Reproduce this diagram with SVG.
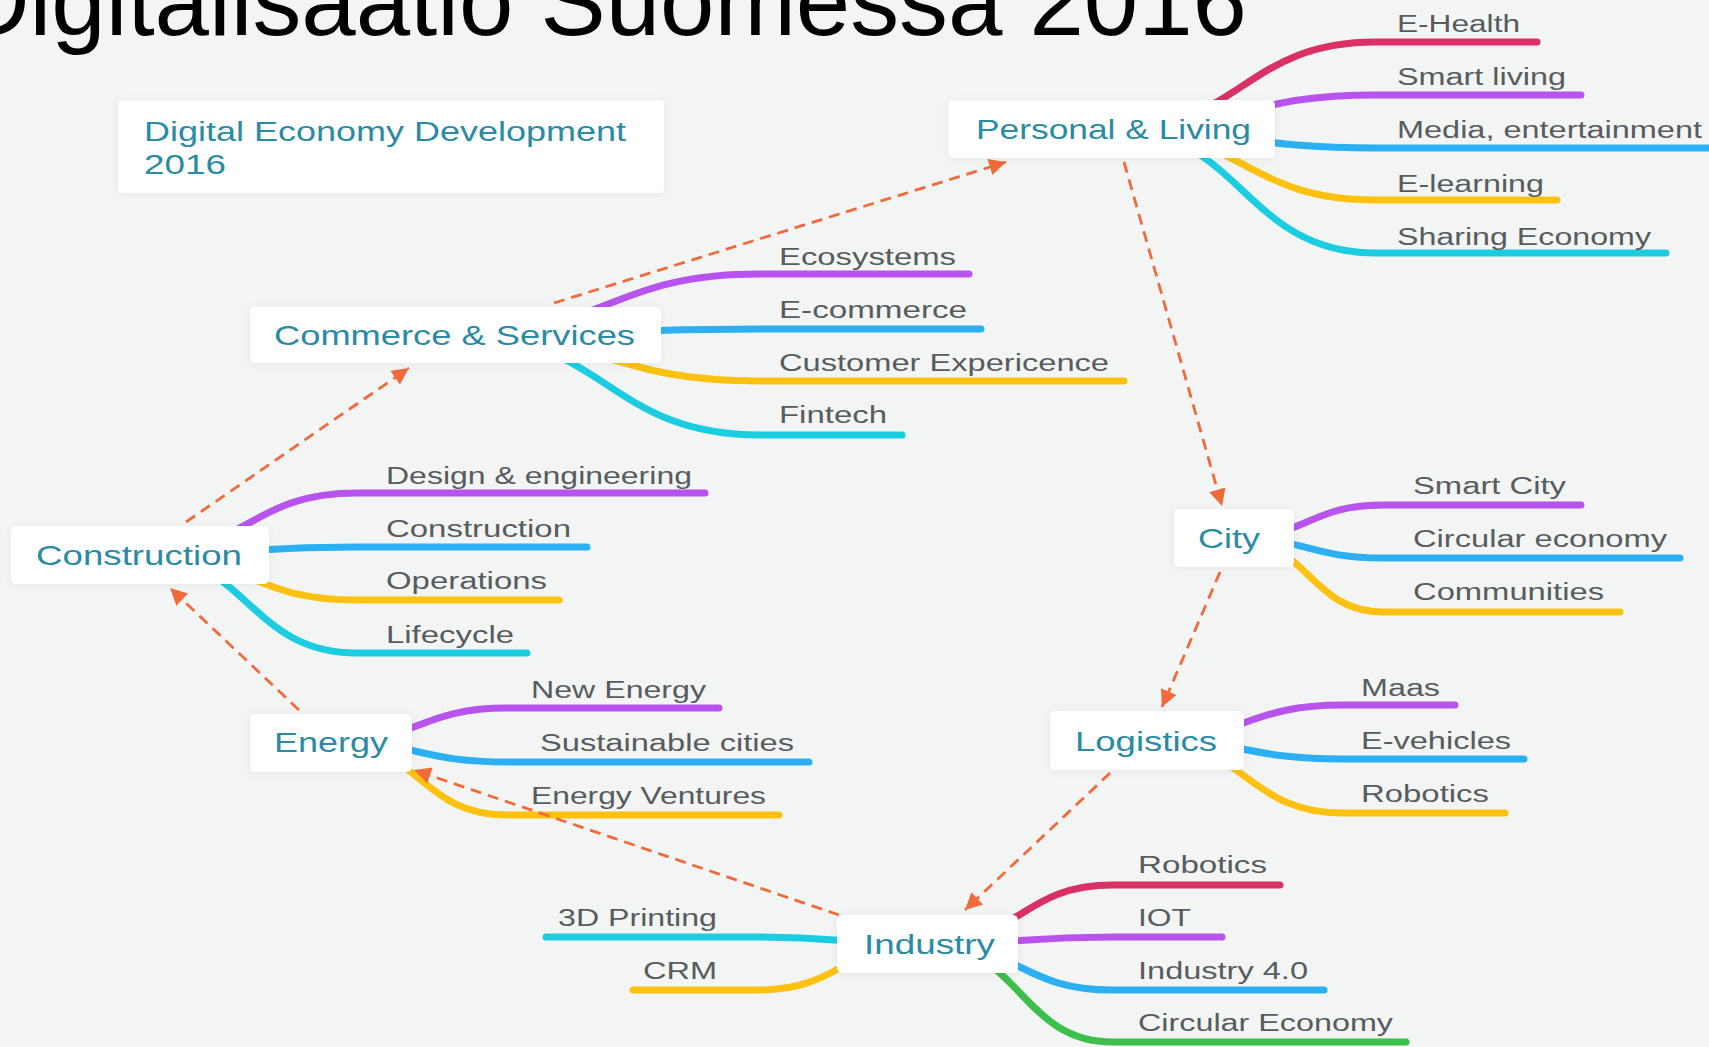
<svg xmlns="http://www.w3.org/2000/svg" width="1709" height="1047" viewBox="0 0 1709 1047">
<defs>
<style>
.bg{fill:#f3f5f4}
.box{fill:#ffffff;filter:url(#sh)}
.nt{font-family:"Liberation Sans",Arial,sans-serif;font-size:27.5px;fill:#2b8aa4}
.bt{font-family:"Liberation Sans",Arial,sans-serif;font-size:23.5px;fill:#575c5f}
.title{font-family:"Liberation Sans",Arial,sans-serif;font-size:97.8px;fill:#000000}
.br{fill:none;stroke-width:7;stroke-linecap:round}
.crim{stroke:#d93065}.purp{stroke:#b853ee}.blue{stroke:#2cb0f3}.yell{stroke:#fcc111}.cyan{stroke:#1ccde1}.gree{stroke:#3cbf4b}
.arr{fill:none;stroke:#f06a3b;stroke-width:2.8;stroke-dasharray:11 7;marker-end:url(#ah)}
</style>
<filter id="sh" x="-20%" y="-40%" width="140%" height="180%">
<feDropShadow dx="0" dy="1" stdDeviation="4" flood-color="#000" flood-opacity="0.06"/>
</filter>
<marker id="ah" viewBox="0 0 10 10" refX="10" refY="5" markerWidth="6.5" markerHeight="6" orient="auto" markerUnits="strokeWidth">
<path d="M0,0 L10,5 L0,10 z" fill="#f06a3b"/>
</marker>
</defs>
<rect class="bg" x="0" y="0" width="1709" height="1047"/>
<text class="title" x="-41" y="35" textLength="1288" lengthAdjust="spacingAndGlyphs">Digitalisaatio Suomessa 2016</text>

<g id="connectors">
<!-- Personal & Living branches -->
<path class="br crim" d="M1111 129 C1243 129 1243 42 1376 42 H1537"/>
<path class="br purp" d="M1111 129 C1243 129 1243 95 1376 95 H1581"/>
<path class="br blue" d="M1111 129 C1243 129 1243 148 1376 148 H1720"/>
<path class="br yell" d="M1111 129 C1243 129 1243 200 1376 200 H1557"/>
<path class="br cyan" d="M1111 129 C1243 129 1243 253 1376 253 H1666"/>
<!-- Commerce & Services branches -->
<path class="br purp" d="M455 335 C607 335 607 274 760 274 H969"/>
<path class="br blue" d="M455 335 C607 335 607 329 760 329 H981"/>
<path class="br yell" d="M455 335 C607 335 607 381 760 381 H1124"/>
<path class="br cyan" d="M455 335 C607 335 607 435 760 435 H902"/>
<!-- Construction branches -->
<path class="br purp" d="M140 554 C248 554 248 493 357 493 H705"/>
<path class="br blue" d="M140 554 C248 554 248 547 357 547 H587"/>
<path class="br yell" d="M140 554 C248 554 248 600 357 600 H559"/>
<path class="br cyan" d="M140 554 C248 554 248 653 357 653 H527"/>
<!-- Energy branches -->
<path class="br purp" d="M331 742 C419 742 419 708 507 708 H719"/>
<path class="br blue" d="M331 742 C419 742 419 762 507 762 H809"/>
<path class="br yell" d="M331 742 C419 742 419 815 507 815 H779"/>
<!-- City branches -->
<path class="br purp" d="M1233 538 C1308 538 1308 505 1384 505 H1581"/>
<path class="br blue" d="M1233 538 C1308 538 1308 558 1384 558 H1680"/>
<path class="br yell" d="M1233 538 C1308 538 1308 612 1384 612 H1620"/>
<!-- Logistics branches -->
<path class="br purp" d="M1147 740 C1245 740 1245 705 1343 705 H1455"/>
<path class="br blue" d="M1147 740 C1245 740 1245 759 1343 759 H1524"/>
<path class="br yell" d="M1147 740 C1245 740 1245 813 1343 813 H1505"/>
<!-- Industry branches -->
<path class="br crim" d="M927 944 C1020 944 1020 885 1113 885 H1280"/>
<path class="br purp" d="M927 944 C1020 944 1020 937 1113 937 H1222"/>
<path class="br blue" d="M927 944 C1020 944 1020 990 1113 990 H1324"/>
<path class="br gree" d="M927 944 C1020 944 1020 1042 1113 1042 H1406"/>
<path class="br cyan" d="M927 944 C842 944 842 937 757 937 H546"/>
<path class="br yell" d="M927 944 C842 944 842 990 757 990 H633"/>
<!-- dashed flow arrows -->
<path class="arr" d="M186 522 L409 368"/>
<path class="arr" d="M554 303 L1006 162"/>
<path class="arr" d="M1124 162 L1222 506"/>
<path class="arr" d="M1220 572 L1162 707"/>
<path class="arr" d="M1110 773 L965 910"/>
<path class="arr" d="M839 915 L414 770"/>
<path class="arr" d="M299 710 L170 588"/>
</g>

<g id="node-title">
<rect class="box" x="118" y="100" width="546" height="93" rx="5"/>
<text class="nt" x="144" y="141" textLength="482" lengthAdjust="spacingAndGlyphs">Digital Economy Development</text>
<text class="nt" x="144" y="174" textLength="82" lengthAdjust="spacingAndGlyphs">2016</text>
</g>
<g id="node-personal">
<rect class="box" x="948" y="100" width="327" height="58" rx="5"/>
<text class="nt" x="976" y="139" textLength="275" lengthAdjust="spacingAndGlyphs">Personal &amp; Living</text>
</g>
<g id="node-commerce">
<rect class="box" x="250" y="307" width="411" height="56" rx="5"/>
<text class="nt" x="274" y="345" textLength="361" lengthAdjust="spacingAndGlyphs">Commerce &amp; Services</text>
</g>
<g id="node-construction">
<rect class="box" x="11" y="526" width="258" height="58" rx="5"/>
<text class="nt" x="36" y="565" textLength="206" lengthAdjust="spacingAndGlyphs">Construction</text>
</g>
<g id="node-energy">
<rect class="box" x="250" y="714" width="162" height="58" rx="5"/>
<text class="nt" x="274" y="752" textLength="114" lengthAdjust="spacingAndGlyphs">Energy</text>
</g>
<g id="node-city">
<rect class="box" x="1174" y="509" width="120" height="58" rx="5"/>
<text class="nt" x="1198" y="548" textLength="62" lengthAdjust="spacingAndGlyphs">City</text>
</g>
<g id="node-logistics">
<rect class="box" x="1050" y="711" width="194" height="59" rx="5"/>
<text class="nt" x="1075" y="751" textLength="142" lengthAdjust="spacingAndGlyphs">Logistics</text>
</g>
<g id="node-industry">
<rect class="box" x="837" y="915" width="181" height="58" rx="5"/>
<text class="nt" x="864" y="954" textLength="131" lengthAdjust="spacingAndGlyphs">Industry</text>
</g>

<g id="sub-personal">
<g id="n-ehealth"><text class="bt" x="1397" y="32" textLength="123" lengthAdjust="spacingAndGlyphs">E-Health</text></g>
<g id="n-smartliving"><text class="bt" x="1397" y="85" textLength="169" lengthAdjust="spacingAndGlyphs">Smart living</text></g>
<g id="n-media"><text class="bt" x="1397" y="138" textLength="305" lengthAdjust="spacingAndGlyphs">Media, entertainment</text></g>
<g id="n-elearning"><text class="bt" x="1397" y="192" textLength="147" lengthAdjust="spacingAndGlyphs">E-learning</text></g>
<g id="n-sharing"><text class="bt" x="1397" y="245" textLength="254" lengthAdjust="spacingAndGlyphs">Sharing Economy</text></g>
</g>
<g id="sub-commerce">
<g id="n-ecosystems"><text class="bt" x="779" y="265" textLength="177" lengthAdjust="spacingAndGlyphs">Ecosystems</text></g>
<g id="n-ecommerce"><text class="bt" x="779" y="318" textLength="188" lengthAdjust="spacingAndGlyphs">E-commerce</text></g>
<g id="n-customer"><text class="bt" x="779" y="371" textLength="330" lengthAdjust="spacingAndGlyphs">Customer Expericence</text></g>
<g id="n-fintech"><text class="bt" x="779" y="423" textLength="108" lengthAdjust="spacingAndGlyphs">Fintech</text></g>
</g>
<g id="sub-construction">
<g id="n-design"><text class="bt" x="386" y="484" textLength="306" lengthAdjust="spacingAndGlyphs">Design &amp; engineering</text></g>
<g id="n-construction2"><text class="bt" x="386" y="537" textLength="185" lengthAdjust="spacingAndGlyphs">Construction</text></g>
<g id="n-operations"><text class="bt" x="386" y="589" textLength="161" lengthAdjust="spacingAndGlyphs">Operations</text></g>
<g id="n-lifecycle"><text class="bt" x="386" y="643" textLength="128" lengthAdjust="spacingAndGlyphs">Lifecycle</text></g>
</g>
<g id="sub-energy">
<g id="n-newenergy"><text class="bt" x="531" y="698" textLength="175" lengthAdjust="spacingAndGlyphs">New Energy</text></g>
<g id="n-sustainable"><text class="bt" x="540" y="751" textLength="254" lengthAdjust="spacingAndGlyphs">Sustainable cities</text></g>
<g id="n-ventures"><text class="bt" x="531" y="804" textLength="235" lengthAdjust="spacingAndGlyphs">Energy Ventures</text></g>
</g>
<g id="sub-city">
<g id="n-smartcity"><text class="bt" x="1413" y="494" textLength="153" lengthAdjust="spacingAndGlyphs">Smart City</text></g>
<g id="n-circular"><text class="bt" x="1413" y="547" textLength="254" lengthAdjust="spacingAndGlyphs">Circular economy</text></g>
<g id="n-communities"><text class="bt" x="1413" y="600" textLength="191" lengthAdjust="spacingAndGlyphs">Communities</text></g>
</g>
<g id="sub-logistics">
<g id="n-maas"><text class="bt" x="1361" y="696" textLength="79" lengthAdjust="spacingAndGlyphs">Maas</text></g>
<g id="n-evehicles"><text class="bt" x="1361" y="749" textLength="150" lengthAdjust="spacingAndGlyphs">E-vehicles</text></g>
<g id="n-robotics1"><text class="bt" x="1361" y="802" textLength="128" lengthAdjust="spacingAndGlyphs">Robotics</text></g>
</g>
<g id="sub-industry">
<g id="n-robotics2"><text class="bt" x="1138" y="873" textLength="129" lengthAdjust="spacingAndGlyphs">Robotics</text></g>
<g id="n-iot"><text class="bt" x="1138" y="926" textLength="53" lengthAdjust="spacingAndGlyphs">IOT</text></g>
<g id="n-industry40"><text class="bt" x="1138" y="979" textLength="170" lengthAdjust="spacingAndGlyphs">Industry 4.0</text></g>
<g id="n-circular2"><text class="bt" x="1138" y="1031" textLength="255" lengthAdjust="spacingAndGlyphs">Circular Economy</text></g>
<g id="n-3dprinting"><text class="bt" x="558" y="926" textLength="159" lengthAdjust="spacingAndGlyphs">3D Printing</text></g>
<g id="n-crm"><text class="bt" x="643" y="979" textLength="74" lengthAdjust="spacingAndGlyphs">CRM</text></g>
</g>
</svg>
